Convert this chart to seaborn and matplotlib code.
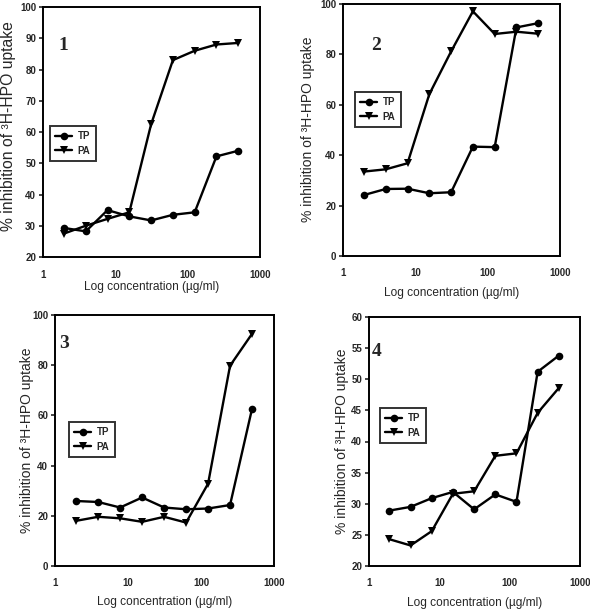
import pandas as pd
import matplotlib
matplotlib.use('Agg')
import matplotlib.pyplot as plt
import seaborn as sns

conc = [1.95, 3.9, 7.8, 15.6, 31.25, 62.5, 125, 250, 500]

tp_1 = [29.3, 28.2, 35.0, 33.0, 31.7, 33.5, 34.3, 52.2, 54.0]
pa_1 = [27.5, 30.0, 32.2, 34.3, 62.5, 83.0, 86.0, 88.0, 88.5]

tp_2 = [24.2, 26.6, 26.7, 24.9, 25.3, 43.4, 43.2, 90.7, 92.4]
pa_2 = [33.5, 34.4, 36.8, 64.2, 81.2, 97.1, 88.1, 89.0, 88.2]

tp_3 = [25.9, 25.5, 23.3, 27.3, 23.3, 22.6, 22.9, 24.3, 62.6]
pa_3 = [18.0, 19.6, 19.0, 17.6, 19.6, 17.3, 32.8, 79.8, 92.5]

tp_4 = [28.9, 29.5, 30.9, 31.9, 29.1, 31.5, 30.3, 51.2, 53.8]
pa_4 = [24.3, 23.3, 25.6, 31.6, 32.0, 37.7, 38.1, 44.6, 48.6]

panel_names = ['1', '2', '3', '4']
y_limits = [(20, 100), (0, 100), (0, 100), (20, 60)]
y_steps = [10, 20, 20, 5]

sns.set_theme(style='white')
plt.rcParams['font.family'] = ['Liberation Sans', 'DejaVu Sans']

fig = plt.figure(figsize=(5.9, 6.09), dpi=100)
W, H = 590, 609

# axes boxes in pixels: left, right, top, bottom
boxes = [(43, 260, 7, 257), (343, 560, 4, 256),
         (55, 274, 315, 566), (369, 580, 317, 566)]
# legend upper-left corners, panel-number centres, label centres (px)
legend_pos = [(50, 126), (355, 92), (69, 422), (380, 408)]
num_pos = [(63, 45), (376, 45), (64, 343), (377, 352)]
xlabel_y = [287, 293, 602, 603]
ylabel_xy = [(9, 126), (308, 129), (27, 440), (342, 441)]
ylabel_size = [11.3, 10, 10, 10]

data = [(tp_1, pa_1), (tp_2, pa_2), (tp_3, pa_3), (tp_4, pa_4)]

for i, (l, r, t, b) in enumerate(boxes):
    ax = fig.add_axes([l / W, 1 - b / H, (r - l) / W, (b - t) / H])
    tp, pa = data[i]
    df = pd.DataFrame({'conc': conc * 2, 'val': tp + pa,
                       'series': ['TP'] * len(conc) + ['PA'] * len(conc)})
    sns.lineplot(data=df, x='conc', y='val', hue='series', style='series',
                 markers={'TP': 'o', 'PA': 'v'}, dashes=False,
                 palette={'TP': 'black', 'PA': 'black'},
                 markersize=5.5, linewidth=1.7, markeredgewidth=0, ax=ax)
    ax.set_xscale('log')
    ax.set_xlim(1, 1000)
    ax.set_xticks([1, 10, 100, 1000])
    ax.set_xticklabels(['1', '10', '100', '1000'])
    ax.minorticks_off()
    lo, hi = y_limits[i]
    ax.set_ylim(lo, hi)
    ax.set_yticks(list(range(lo, hi + 1, y_steps[i])))
    for s in ax.spines.values():
        s.set_color('black')
        s.set_linewidth(1.4)
    ax.tick_params(axis='y', direction='out', length=3, width=1.2,
                   left=True, labelsize=7, pad=2)
    ax.tick_params(axis='x', direction='out', length=0, labelsize=7, pad=9)
    for lab in ax.get_xticklabels() + ax.get_yticklabels():
        lab.set_fontweight('bold')

    ax.set_xlabel('Log concentration (µg/ml)', fontsize=8.6)
    ax.xaxis.set_label_coords(0.5, (b - xlabel_y[i]) / (b - t))
    ax.xaxis.label.set_va('center')
    ax.set_ylabel('% inhibition of ³H-HPO uptake', fontsize=ylabel_size[i])
    yx, yy = ylabel_xy[i]
    ax.yaxis.set_label_coords((yx - l) / (r - l), (b - yy) / (b - t))
    ax.yaxis.label.set_va('center')

    handles, labels = ax.get_legend_handles_labels()
    lx, ly = legend_pos[i]
    leg = ax.legend(handles, labels, loc='upper left',
                    bbox_to_anchor=(lx / W, 1 - ly / H),
                    bbox_transform=fig.transFigure,
                    fancybox=False, frameon=True, fontsize=7,
                    handlelength=1.7, handletextpad=0.6, borderpad=0.55,
                    labelspacing=0.45, borderaxespad=0)
    leg.get_frame().set_edgecolor('black')
    leg.get_frame().set_linewidth(1.4)
    for txt in leg.get_texts():
        txt.set_fontweight('bold')

    nx, ny = num_pos[i]
    fig.text(nx / W, 1 - ny / H, panel_names[i], ha='center', va='center',
             fontsize=14, fontweight='bold', family='Liberation Serif',
             bbox=dict(facecolor='white', edgecolor='none', pad=1) if i >= 2 else None,
             zorder=5)

fig.savefig('out.png', dpi=100)
